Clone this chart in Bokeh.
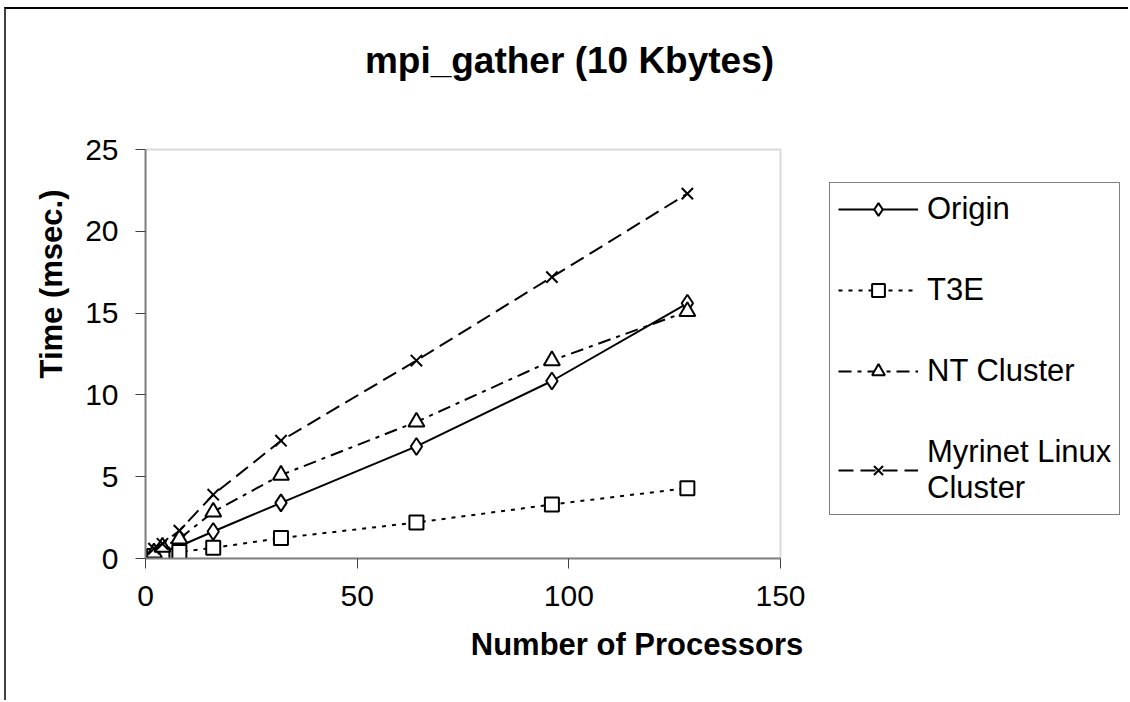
from bokeh.plotting import figure
from bokeh.models import Range1d, LinearAxis, Legend, LegendItem, FixedTicker, BoxAnnotation, Label
from bokeh.embed import file_html
from bokeh.resources import INLINE

procs = [2, 4, 8, 16, 32, 64, 96, 128]
origin = [0.2, 0.4, 0.75, 1.65, 3.4, 6.85, 10.85, 15.6]
t3e = [0.15, 0.25, 0.4, 0.65, 1.25, 2.2, 3.3, 4.3]
nt_cluster = [0.35, 0.7, 1.2, 2.85, 5.1, 8.35, 12.1, 15.1]
myrinet = [0.6, 0.9, 1.7, 3.9, 7.2, 12.1, 17.2, 22.3]

series_names = ["Origin", "T3E", "NT Cluster", "Myrinet Linux\nCluster"]
x_ticks = [0, 50, 100, 150]
y_ticks = [0, 5, 10, 15, 20, 25]
x_lim = (0, 150)
y_lim = (0, 25)
chart_title = "mpi_gather (10 Kbytes)"

FONT = "Liberation Sans"

# layout (pixels, relative to the figure's own canvas)
W, H = 1124, 693
BL, BT, BR = 139, 0, 2
PLOT_W, PLOT_H = 635, 409          # size of the drawn plot box
PLOT_TOP = 140                     # plot box top, from canvas top
FRAME_W = W - BL - BR
FRAME_H = PLOT_TOP + PLOT_H - BT
x_span = (x_lim[1] - x_lim[0]) * FRAME_W / PLOT_W
y_span = (y_lim[1] - y_lim[0]) * FRAME_H / PLOT_H

p = figure(width=W, height=H, output_backend="svg", toolbar_location=None,
           x_range=Range1d(x_lim[0], x_lim[0] + x_span),
           y_range=Range1d(y_lim[0], y_lim[0] + y_span),
           x_axis_type=None, y_axis_type=None)
p.margin = (7, 0, 0, 4)
p.styles = {"border-top": "2px solid #000000", "border-left": "2px solid #404040"}
p.min_border_left = BL
p.min_border_top = BT
p.min_border_right = BR
p.min_border_bottom = H - BT - FRAME_H
p.background_fill_color = "white"
p.border_fill_color = "white"
p.outline_line_color = None
p.xgrid.visible = False
p.ygrid.visible = False

# plot-area box
p.add_layout(BoxAnnotation(left=x_lim[0], right=x_lim[1], bottom=y_lim[0], top=y_lim[1],
                           fill_alpha=0, line_color="#808080", line_width=2, level="underlay"))

def style_axis(ax):
    ax.axis_line_color = "#808080"
    ax.axis_line_width = 2
    ax.major_tick_line_color = "#404040"
    ax.major_tick_line_width = 1
    ax.major_tick_out = 10
    ax.major_tick_in = 0
    ax.minor_tick_line_color = None
    ax.major_label_text_font = FONT
    ax.major_label_text_font_size = "30px"
    ax.major_label_text_color = "black"
    ax.axis_label_text_font = FONT
    ax.axis_label_text_font_size = "31px"
    ax.axis_label_text_font_style = "bold"
    ax.axis_label_text_color = "black"

xa = LinearAxis(ticker=FixedTicker(ticks=x_ticks), axis_label="Number of Processors",
                bounds=x_lim)
style_axis(xa)
xa.major_label_standoff = 17
xa.axis_label_standoff = 18
p.add_layout(xa, "below")

ya = LinearAxis(ticker=FixedTicker(ticks=y_ticks), axis_label="Time (msec.)",
                bounds=y_lim)
style_axis(ya)
ya.major_label_standoff = 17
ya.axis_label_standoff = 13
p.add_layout(ya, "left")

lw = 2
r1 = p.line(procs, origin, line_color="black", line_width=lw)
m1 = p.scatter(procs, origin, marker="diamond", size=17, fill_color="white",
               line_color="black", line_width=2)
r2 = p.line(procs, t3e, line_color="black", line_width=lw, line_dash="4 6")
m2 = p.scatter(procs, t3e, marker="square", size=14, fill_color="white",
               line_color="black", line_width=2)
r3 = p.line(procs, nt_cluster, line_color="black", line_width=lw, line_dash="13 6 4 6")
m3 = p.scatter(procs, nt_cluster, marker="triangle", size=16, fill_color="white",
               line_color="black", line_width=2)
r4 = p.line(procs, myrinet, line_color="black", line_width=lw, line_dash="15 7")
m4 = p.scatter(procs, myrinet, marker="x", size=16, line_color="black", line_width=2)

legend = Legend(items=[
    LegendItem(label=series_names[0], renderers=[r1, m1]),
    LegendItem(label=series_names[1], renderers=[r2, m2]),
    LegendItem(label=series_names[2], renderers=[r3, m3]),
    LegendItem(label=series_names[3], renderers=[r4, m4]),
], location=(684, 43))
legend.border_line_color = "black"
legend.border_line_width = 1
legend.background_fill_color = "white"
legend.background_fill_alpha = 1
legend.label_text_font = FONT
legend.label_text_font_size = "31px"
legend.label_text_color = "black"
legend.glyph_width = 80
legend.glyph_height = 32
legend.label_height = 36
legend.label_standoff = 9
legend.spacing = 45
legend.padding = 8
legend.margin = 0
p.add_layout(legend, "center")

# title: centred at x px 569, baseline near y px 60 of the window
title_x = x_lim[0] + (569 - 145) / PLOT_W * (x_lim[1] - x_lim[0])
title_y = y_lim[0] + (558 - 60) / PLOT_H * (y_lim[1] - y_lim[0])
p.add_layout(Label(x=title_x, y=title_y, text=chart_title, text_font=FONT,
                   text_font_size="37px", text_font_style="bold", text_color="black",
                   text_align="center", text_baseline="alphabetic"))

open("out.html", "w").write(file_html(p, INLINE))
